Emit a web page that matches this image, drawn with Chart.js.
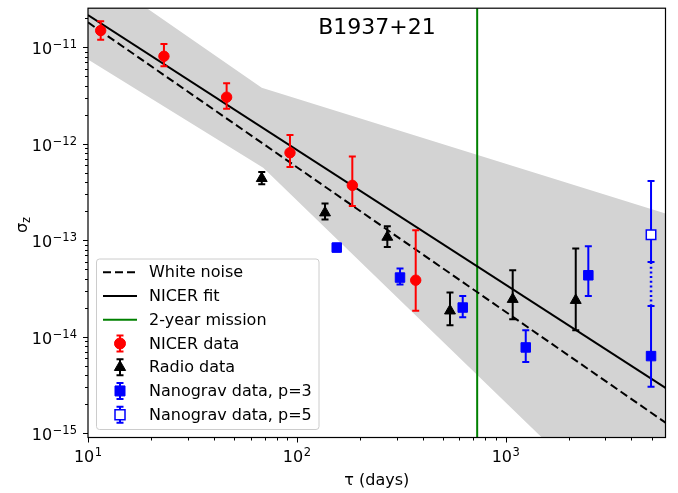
<!DOCTYPE html>
<html>
<head>
<meta charset="utf-8">
<script src="https://cdn.jsdelivr.net/npm/chart.js@4.4.0/dist/chart.umd.min.js"></script>
<style>
  body { margin: 0; background: #fff; }
  canvas { display: block; }
</style>
</head>
<body>
<canvas id="chart" width="678" height="493"></canvas>
<script>
/*================== data =============================================*/
const nicerTau   = [11.5, 23.1, 46.1, 92.7, 184.3, 370.7];
const nicerSigma = [1.49e-11, 8.07e-12, 3.04e-12, 8.08e-13, 3.71e-13, 3.86e-14];
const nicerLow   = [1.20e-11, 6.36e-12, 2.31e-12, 5.73e-13, 2.27e-13, 1.86e-14];
const nicerHigh  = [1.86e-11, 1.08e-11, 4.24e-12, 1.23e-12, 7.40e-13, 1.27e-13];

const radioTau   = [67.9, 136.4, 271.1, 541, 1080, 2164];
const radioSigma = [4.38e-13, 1.93e-13, 1.08e-13, 1.86e-14, 2.45e-14, 2.39e-14];
const radioLow   = [3.80e-13, 1.64e-13, 8.52e-14, 1.32e-14, 1.52e-14, 1.17e-14];
const radioHigh  = [5.09e-13, 2.40e-13, 1.40e-13, 2.88e-14, 4.90e-14, 8.20e-14];

const nano3Tau   = [155.2, 311.8, 622.5, 1247, 2486, 4963];
const nano3Sigma = [8.40e-14, 4.11e-14, 2.01e-14, 7.76e-15, 4.34e-14, 6.31e-15];
const nano3Low   = [7.7e-14, 3.48e-14, 1.59e-14, 5.47e-15, 2.65e-14, 3.04e-15];
const nano3High  = [9.2e-14, 5.10e-14, 2.65e-14, 1.17e-14, 8.67e-14, 2.09e-14];

const nano5Tau   = [4963];
const nano5Sigma = [1.14e-13];
const nano5Low   = [5.96e-14];
const nano5High  = [4.11e-13];

// dotted link between the two last nanograv error bars
const linkTau   = [4963, 4963];
const linkSigma = [5.96e-14, 2.09e-14];

const fitTau     = [10, 5821];
const whiteNoise = [1.81e-11, 1.29e-15];
const nicerFit   = [2.16e-11, 2.96e-15];

const missionTau = 730;

const bandUpperTau = [10, 67.9, 5821];
const bandUpper    = [6.72e-11, 3.80e-12, 1.89e-13];
const bandLowerTau = [10, 69, 5821];
const bandLower    = [7.46e-12, 5.65e-13, 5.2e-17];

const xTicks = [10, 100, 1000];
const yTicks = [1e-15, 1e-14, 1e-13, 1e-12, 1e-11];

const legendLabels = ['White noise', 'NICER fit', '2-year mission', 'NICER data',
                      'Radio data', 'Nanograv data, p=3', 'Nanograv data, p=5'];

const FONT = '"DejaVu Sans", sans-serif';
const pts = (xs, ys) => xs.map((x, i) => ({x: x, y: ys[i]}));

// band polygon: along the upper edge, back along the lower edge
const bandPoly = pts(bandUpperTau, bandUpper).concat(pts(bandLowerTau, bandLower).reverse());

/*================== error bars =========================*/
const errorBars = {
    id: 'errorBars',
    beforeDatasetDraw(chart, args) {
        const ds = chart.data.datasets[args.index];
        if (!ds.errLow) return;
        const c = chart.ctx, xs = chart.scales.x, ys = chart.scales.y;
        c.save();
        c.strokeStyle = ds.errColor;
        c.lineWidth = 2;
        ds.data.forEach((p, i) => {
            const px = xs.getPixelForValue(p.x);
            const top = ys.getPixelForValue(ds.errHigh[i]);
            const bot = ys.getPixelForValue(ds.errLow[i]);
            c.beginPath();
            c.moveTo(px, top); c.lineTo(px, bot);
            c.moveTo(px - 3.5, top); c.lineTo(px + 3.5, top);
            c.moveTo(px - 3.5, bot); c.lineTo(px + 3.5, bot);
            c.stroke();
        });
        c.restore();
    }
};

/*================== axes, labels, legend =========================*/
function expText(v) {
    const e = Math.round(Math.log10(v));
    return (e < 0 ? '\u2212' : '') + Math.abs(e);
}

function drawPower(c, v, x, y, align) {
    const exp = expText(v);
    c.font = '16px ' + FONT;
    const wb = c.measureText('10').width;
    c.font = '11.5px ' + FONT;
    const we = c.measureText(exp).width;
    const total = wb + we + 0.5;
    const left = align === 'center' ? x - total / 2 : x - total;
    c.textAlign = 'left';
    c.textBaseline = 'alphabetic';
    c.font = '16px ' + FONT;
    c.fillText('10', left, y);
    c.font = '11.5px ' + FONT;
    c.fillText(exp, left + wb + 0.5, y - 6);
}

function marker(c, style, x, y, fill, stroke) {
    c.save();
    c.fillStyle = fill;
    c.strokeStyle = stroke;
    c.beginPath();
    if (style === 'circle') {
        c.lineWidth = 1;
        c.arc(x, y, 5.5, 0, Math.PI * 2);
    } else if (style === 'triangle') {
        c.lineWidth = 1;
        const r = 6.5;
        c.moveTo(x, y - r);
        c.lineTo(x - r * 0.866, y + r / 2);
        c.lineTo(x + r * 0.866, y + r / 2);
        c.closePath();
    } else {
        c.lineWidth = style === 'open' ? 1.5 : 1;
        c.rect(x - 5, y - 5, 10, 10);
    }
    c.fill();
    c.stroke();
    c.restore();
}

const decorations = {
    id: 'decorations',
    afterDraw(chart) {
        const c = chart.ctx, a = chart.chartArea;
        const xs = chart.scales.x, ys = chart.scales.y;
        c.save();
        c.fillStyle = '#000';
        c.strokeStyle = '#000';

        // ticks
        c.lineWidth = 1;
        c.beginPath();
        for (let d = 1; d <= 3; d++) {
            for (let k = 1; k <= 9; k++) {
                const v = k * Math.pow(10, d);
                if (v < xs.min || v > xs.max) continue;
                const px = Math.round(xs.getPixelForValue(v)) + 0.5;
                c.moveTo(px, a.bottom);
                c.lineTo(px, a.bottom + (k === 1 ? 5 : 3));
            }
        }
        for (let d = -16; d <= -11; d++) {
            for (let k = 1; k <= 9; k++) {
                const v = k * Math.pow(10, d);
                if (v < ys.min || v > ys.max) continue;
                const py = Math.round(ys.getPixelForValue(v)) + 0.5;
                c.moveTo(a.left, py);
                c.lineTo(a.left - (k === 1 ? 5 : 3), py);
            }
        }
        c.stroke();

        // frame
        c.lineWidth = 1.2;
        c.strokeRect(a.left, a.top, a.right - a.left, a.bottom - a.top);

        // tick labels
        xTicks.forEach(v => drawPower(c, v, xs.getPixelForValue(v), 462, 'center'));
        yTicks.forEach(v => drawPower(c, v, 77, ys.getPixelForValue(v) + 7, 'right'));

        // axis labels
        c.font = '16px ' + FONT;
        c.textAlign = 'center';
        c.textBaseline = 'alphabetic';
        c.fillText('\u03c4 (days)', (a.left + a.right) / 2, 485);

        c.save();
        c.translate(27, 225);
        c.rotate(-Math.PI / 2);
        c.font = '16px ' + FONT;
        c.textAlign = 'left';
        const ws = c.measureText('\u03c3').width;
        c.font = '11.5px ' + FONT;
        const wz = c.measureText('z').width;
        const start = -(ws + wz) / 2;
        c.font = '16px ' + FONT;
        c.fillText('\u03c3', start, 0);
        c.font = '11.5px ' + FONT;
        c.fillText('z', start + ws, 3);
        c.restore();

        // title
        c.font = '22px ' + FONT;
        c.textAlign = 'center';
        c.fillText('B1937+21', 377, 34);

        // legend
        const lx = 96.5, ly = 259, lw = 222.5, lh = 170.5;
        c.beginPath();
        c.roundRect(lx, ly, lw, lh, 3);
        c.fillStyle = 'rgba(255,255,255,0.8)';
        c.fill();
        c.strokeStyle = '#cccccc';
        c.lineWidth = 1;
        c.stroke();

        const rowY = i => 272.3 + i * 23.73;
        const lines = [
            {color: '#000', dash: [8, 4]},
            {color: '#000', dash: []},
            {color: 'green', dash: []}
        ];
        lines.forEach((l, i) => {
            c.save();
            c.strokeStyle = l.color;
            c.lineWidth = 2;
            c.setLineDash(l.dash);
            c.beginPath();
            c.moveTo(103, rowY(i));
            c.lineTo(137, rowY(i));
            c.stroke();
            c.restore();
        });
        const marks = [
            {style: 'circle', fill: 'red', stroke: 'red'},
            {style: 'triangle', fill: '#000', stroke: '#000'},
            {style: 'rect', fill: 'blue', stroke: 'blue'},
            {style: 'open', fill: '#fff', stroke: 'blue'}
        ];
        marks.forEach((m, j) => {
            const y = rowY(j + 3), x = 120;
            c.save();
            c.strokeStyle = m.stroke;
            c.lineWidth = 2;
            c.beginPath();
            c.moveTo(x, y - 8); c.lineTo(x, y + 8);
            c.moveTo(x - 3.5, y - 8); c.lineTo(x + 3.5, y - 8);
            c.moveTo(x - 3.5, y + 8); c.lineTo(x + 3.5, y + 8);
            c.stroke();
            c.restore();
            marker(c, m.style, x, y, m.fill, m.stroke);
        });
        c.fillStyle = '#000';
        c.font = '16px ' + FONT;
        c.textAlign = 'left';
        c.textBaseline = 'middle';
        legendLabels.forEach((t, i) => c.fillText(t, 149, rowY(i) + 1));

        c.restore();
    }
};

/*================== chart =========================*/
const ctx = document.getElementById('chart').getContext('2d');

const chart = new Chart(ctx, {
    type: 'scatter',
    data: {
        datasets: [
            {
                label: 'NICER data', data: pts(nicerTau, nicerSigma),
                errLow: nicerLow, errHigh: nicerHigh, errColor: 'red',
                pointStyle: 'circle', pointRadius: 5.2, borderWidth: 1,
                backgroundColor: 'red', borderColor: 'red', order: 0
            },
            {
                label: 'Radio data', data: pts(radioTau, radioSigma),
                errLow: radioLow, errHigh: radioHigh, errColor: '#000',
                pointStyle: 'triangle', pointRadius: 6.3, borderWidth: 1,
                backgroundColor: '#000', borderColor: '#000', order: 1
            },
            {
                label: 'Nanograv data, p=3', data: pts(nano3Tau, nano3Sigma),
                errLow: nano3Low, errHigh: nano3High, errColor: 'blue',
                pointStyle: 'rect', pointRadius: 6.7, borderWidth: 1,
                backgroundColor: 'blue', borderColor: 'blue', order: 2
            },
            {
                label: 'Nanograv data, p=5', data: pts(nano5Tau, nano5Sigma),
                errLow: nano5Low, errHigh: nano5High, errColor: 'blue',
                pointStyle: 'rect', pointRadius: 6.7, borderWidth: 1.5,
                backgroundColor: '#fff', borderColor: 'blue', order: 3
            },
            {
                label: 'link', data: pts(linkTau, linkSigma), showLine: true,
                borderColor: 'blue', borderWidth: 2.5, borderDash: [2, 2.7],
                borderCapStyle: 'butt', pointRadius: 0, order: 4
            },
            {
                label: 'White noise', data: pts(fitTau, whiteNoise), showLine: true,
                borderColor: '#000', borderWidth: 2, borderDash: [8, 4],
                pointRadius: 0, order: 5
            },
            {
                label: 'NICER fit', data: pts(fitTau, nicerFit), showLine: true,
                borderColor: '#000', borderWidth: 2, pointRadius: 0, order: 5
            },
            {
                label: '2-year mission', data: [{x: missionTau, y: 1e-17}, {x: missionTau, y: 1e-9}],
                showLine: true, borderColor: 'green', borderWidth: 2, pointRadius: 0, order: 5
            },
            {
                label: 'band', data: bandPoly, showLine: true, fill: 'shape',
                backgroundColor: '#d3d3d3', borderColor: 'rgba(0,0,0,0)', borderWidth: 0,
                pointRadius: 0, order: 10
            }
        ]
    },
    options: {
        responsive: false,
        animation: false,
        devicePixelRatio: 1,
        layout: { padding: { left: 0, right: 12.5, top: 7.5, bottom: 0 } },
        plugins: {
            legend: { display: false },
            tooltip: { enabled: false }
        },
        scales: {
            x: {
                type: 'logarithmic', min: 10, max: 5821,
                ticks: { display: false }, grid: { display: false }, border: { display: false },
                afterFit: s => { s.height = 55.5; }
            },
            y: {
                type: 'logarithmic', min: 9.05e-16, max: 2.54e-11,
                ticks: { display: false }, grid: { display: false }, border: { display: false },
                afterFit: s => { s.width = 88; }
            }
        }
    },
    plugins: [errorBars, decorations]
});
</script>
</body>
</html>
